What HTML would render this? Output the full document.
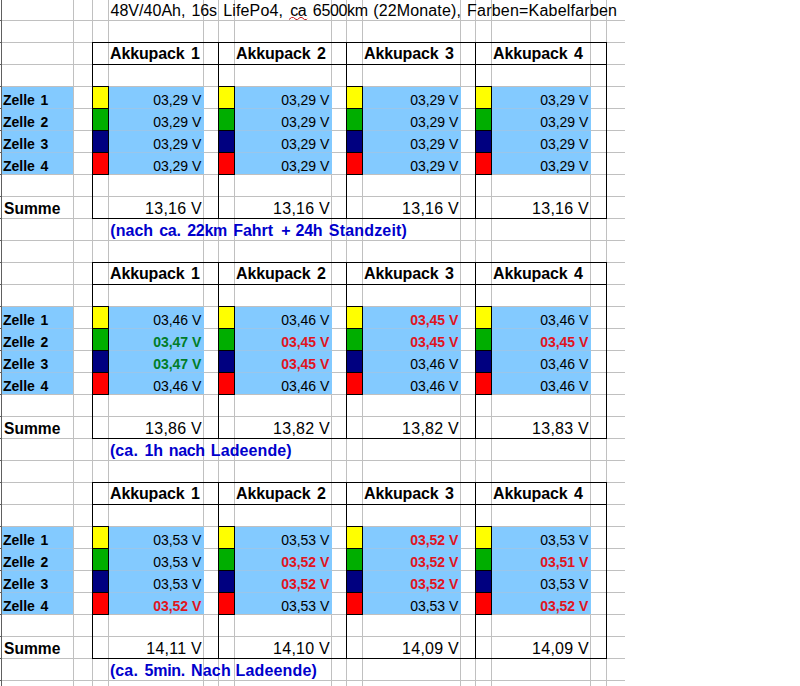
<!DOCTYPE html><html><head><meta charset="utf-8"><title>Akku</title><style>
html,body{margin:0;padding:0;background:#fff;}
body{width:800px;height:686px;position:relative;overflow:hidden;font-family:"Liberation Sans",sans-serif;color:#000;}
div,span{position:absolute;box-sizing:border-box;}
.h{left:0;width:625px;height:1px;background:#c0c0c0;}
.v{top:0;height:686px;width:1px;background:#c0c0c0;}
.b{background:#83caff;height:21px;}
.gb{background:#9ac6ea;height:1px;}
.k{background:#000;}
.t{white-space:nowrap;line-height:1;}
.ti{font-size:16px;}
.hd{font-size:16px;font-weight:bold;letter-spacing:-0.15px;word-spacing:2.2px;}
.z{font-size:14px;font-weight:bold;word-spacing:1.6px;}
.s{font-size:15.6px;font-weight:bold;}
.n{font-size:16px;font-weight:bold;color:#0000cc;}
.c{font-size:14px;text-align:right;}
.cg{font-weight:bold;color:#007d28;}
.cr{font-weight:bold;color:#e0141e;}
.u{font-size:16px;text-align:right;letter-spacing:0.25px;}
</style></head><body>
<div class="h" style="top:20px"></div>
<div class="h" style="top:42px"></div>
<div class="h" style="top:64px"></div>
<div class="h" style="top:86px"></div>
<div class="h" style="top:108px"></div>
<div class="h" style="top:130px"></div>
<div class="h" style="top:152px"></div>
<div class="h" style="top:174px"></div>
<div class="h" style="top:196px"></div>
<div class="h" style="top:218px"></div>
<div class="h" style="top:240px"></div>
<div class="h" style="top:262px"></div>
<div class="h" style="top:284px"></div>
<div class="h" style="top:306px"></div>
<div class="h" style="top:328px"></div>
<div class="h" style="top:350px"></div>
<div class="h" style="top:372px"></div>
<div class="h" style="top:394px"></div>
<div class="h" style="top:416px"></div>
<div class="h" style="top:438px"></div>
<div class="h" style="top:460px"></div>
<div class="h" style="top:482px"></div>
<div class="h" style="top:504px"></div>
<div class="h" style="top:526px"></div>
<div class="h" style="top:548px"></div>
<div class="h" style="top:570px"></div>
<div class="h" style="top:592px"></div>
<div class="h" style="top:614px"></div>
<div class="h" style="top:636px"></div>
<div class="h" style="top:658px"></div>
<div class="h" style="top:680px"></div>
<div class="v" style="left:73px"></div>
<div class="v" style="left:92px"></div>
<div class="v" style="left:108px"></div>
<div class="v" style="left:203px"></div>
<div class="v" style="left:218px"></div>
<div class="v" style="left:234px"></div>
<div class="v" style="left:331px"></div>
<div class="v" style="left:346px"></div>
<div class="v" style="left:362px"></div>
<div class="v" style="left:460px"></div>
<div class="v" style="left:475px"></div>
<div class="v" style="left:491px"></div>
<div class="v" style="left:590px"></div>
<div class="v" style="left:606px"></div>
<div style="left:1px;top:0;width:1px;height:686px;background:#606060"></div>
<div style="left:0;top:20px;width:1px;height:1px;background:#606060"></div>
<div style="left:0;top:42px;width:1px;height:1px;background:#606060"></div>
<div style="left:0;top:64px;width:1px;height:1px;background:#606060"></div>
<div style="left:0;top:86px;width:1px;height:1px;background:#606060"></div>
<div style="left:0;top:108px;width:1px;height:1px;background:#606060"></div>
<div style="left:0;top:130px;width:1px;height:1px;background:#606060"></div>
<div style="left:0;top:152px;width:1px;height:1px;background:#606060"></div>
<div style="left:0;top:174px;width:1px;height:1px;background:#606060"></div>
<div style="left:0;top:196px;width:1px;height:1px;background:#606060"></div>
<div style="left:0;top:218px;width:1px;height:1px;background:#606060"></div>
<div style="left:0;top:240px;width:1px;height:1px;background:#606060"></div>
<div style="left:0;top:262px;width:1px;height:1px;background:#606060"></div>
<div style="left:0;top:284px;width:1px;height:1px;background:#606060"></div>
<div style="left:0;top:306px;width:1px;height:1px;background:#606060"></div>
<div style="left:0;top:328px;width:1px;height:1px;background:#606060"></div>
<div style="left:0;top:350px;width:1px;height:1px;background:#606060"></div>
<div style="left:0;top:372px;width:1px;height:1px;background:#606060"></div>
<div style="left:0;top:394px;width:1px;height:1px;background:#606060"></div>
<div style="left:0;top:416px;width:1px;height:1px;background:#606060"></div>
<div style="left:0;top:438px;width:1px;height:1px;background:#606060"></div>
<div style="left:0;top:460px;width:1px;height:1px;background:#606060"></div>
<div style="left:0;top:482px;width:1px;height:1px;background:#606060"></div>
<div style="left:0;top:504px;width:1px;height:1px;background:#606060"></div>
<div style="left:0;top:526px;width:1px;height:1px;background:#606060"></div>
<div style="left:0;top:548px;width:1px;height:1px;background:#606060"></div>
<div style="left:0;top:570px;width:1px;height:1px;background:#606060"></div>
<div style="left:0;top:592px;width:1px;height:1px;background:#606060"></div>
<div style="left:0;top:614px;width:1px;height:1px;background:#606060"></div>
<div style="left:0;top:636px;width:1px;height:1px;background:#606060"></div>
<div style="left:0;top:658px;width:1px;height:1px;background:#606060"></div>
<div style="left:0;top:680px;width:1px;height:1px;background:#606060"></div>
<span class="t ti" style="left:110.5px;top:3px;letter-spacing:0.03px">48V/40Ah,</span>
<span class="t ti" style="left:191.5px;top:3px;letter-spacing:-0.15px">16s</span>
<span class="t ti" style="left:223.2px;top:3px;letter-spacing:0.15px">LifePo4,</span>
<span class="t ti" style="left:290.2px;top:3px;letter-spacing:-0.35px">ca</span>
<span class="t ti" style="left:312.8px;top:3px;letter-spacing:-0.32px">6500km</span>
<span class="t ti" style="left:373.3px;top:3px;letter-spacing:0.13px">(22Monate),</span>
<span class="t ti" style="left:467.1px;top:3px;letter-spacing:0.21px">Farben=Kabelfarben</span>
<svg style="position:absolute;left:288px;top:16px" width="21" height="5" viewBox="288 16 21 5"><path d="M289 19.5 L291.5 17.5 L293.5 17.5 L296 19.5 L297.5 19.5 L300 17.5 L302 17.5 L304.5 19.5 L306.5 19.5 L307.2 18.8" fill="none" stroke="#c41c1c" stroke-width="1"/></svg>
<div class="b" style="left:2px;top:87px;width:71px"></div>
<div class="b" style="left:109px;top:87px;width:95px"></div>
<div class="b" style="left:235px;top:87px;width:97px"></div>
<div class="b" style="left:363px;top:87px;width:98px"></div>
<div class="b" style="left:492px;top:87px;width:99px"></div>
<div class="gb" style="left:2px;top:108px;width:71px"></div>
<div class="gb" style="left:109px;top:108px;width:95px"></div>
<div class="gb" style="left:235px;top:108px;width:97px"></div>
<div class="gb" style="left:363px;top:108px;width:98px"></div>
<div class="gb" style="left:492px;top:108px;width:99px"></div>
<div class="b" style="left:2px;top:109px;width:71px"></div>
<div class="b" style="left:109px;top:109px;width:95px"></div>
<div class="b" style="left:235px;top:109px;width:97px"></div>
<div class="b" style="left:363px;top:109px;width:98px"></div>
<div class="b" style="left:492px;top:109px;width:99px"></div>
<div class="gb" style="left:2px;top:130px;width:71px"></div>
<div class="gb" style="left:109px;top:130px;width:95px"></div>
<div class="gb" style="left:235px;top:130px;width:97px"></div>
<div class="gb" style="left:363px;top:130px;width:98px"></div>
<div class="gb" style="left:492px;top:130px;width:99px"></div>
<div class="b" style="left:2px;top:131px;width:71px"></div>
<div class="b" style="left:109px;top:131px;width:95px"></div>
<div class="b" style="left:235px;top:131px;width:97px"></div>
<div class="b" style="left:363px;top:131px;width:98px"></div>
<div class="b" style="left:492px;top:131px;width:99px"></div>
<div class="gb" style="left:2px;top:152px;width:71px"></div>
<div class="gb" style="left:109px;top:152px;width:95px"></div>
<div class="gb" style="left:235px;top:152px;width:97px"></div>
<div class="gb" style="left:363px;top:152px;width:98px"></div>
<div class="gb" style="left:492px;top:152px;width:99px"></div>
<div class="b" style="left:2px;top:153px;width:71px"></div>
<div class="b" style="left:109px;top:153px;width:95px"></div>
<div class="b" style="left:235px;top:153px;width:97px"></div>
<div class="b" style="left:363px;top:153px;width:98px"></div>
<div class="b" style="left:492px;top:153px;width:99px"></div>
<div style="left:93px;top:87px;width:15px;height:21px;background:#ffff00"></div>
<div style="left:93px;top:109px;width:15px;height:21px;background:#00ae00"></div>
<div style="left:93px;top:131px;width:15px;height:21px;background:#000080"></div>
<div style="left:93px;top:153px;width:15px;height:21px;background:#ff0000"></div>
<div class="k" style="left:92px;top:86px;width:17px;height:1px"></div>
<div class="k" style="left:92px;top:108px;width:17px;height:1px"></div>
<div class="k" style="left:92px;top:130px;width:17px;height:1px"></div>
<div class="k" style="left:92px;top:152px;width:17px;height:1px"></div>
<div class="k" style="left:92px;top:174px;width:17px;height:1px"></div>
<div class="k" style="left:108px;top:86px;width:1px;height:89px"></div>
<div style="left:219px;top:87px;width:15px;height:21px;background:#ffff00"></div>
<div style="left:219px;top:109px;width:15px;height:21px;background:#00ae00"></div>
<div style="left:219px;top:131px;width:15px;height:21px;background:#000080"></div>
<div style="left:219px;top:153px;width:15px;height:21px;background:#ff0000"></div>
<div class="k" style="left:218px;top:86px;width:17px;height:1px"></div>
<div class="k" style="left:218px;top:108px;width:17px;height:1px"></div>
<div class="k" style="left:218px;top:130px;width:17px;height:1px"></div>
<div class="k" style="left:218px;top:152px;width:17px;height:1px"></div>
<div class="k" style="left:218px;top:174px;width:17px;height:1px"></div>
<div class="k" style="left:234px;top:86px;width:1px;height:89px"></div>
<div style="left:347px;top:87px;width:15px;height:21px;background:#ffff00"></div>
<div style="left:347px;top:109px;width:15px;height:21px;background:#00ae00"></div>
<div style="left:347px;top:131px;width:15px;height:21px;background:#000080"></div>
<div style="left:347px;top:153px;width:15px;height:21px;background:#ff0000"></div>
<div class="k" style="left:346px;top:86px;width:17px;height:1px"></div>
<div class="k" style="left:346px;top:108px;width:17px;height:1px"></div>
<div class="k" style="left:346px;top:130px;width:17px;height:1px"></div>
<div class="k" style="left:346px;top:152px;width:17px;height:1px"></div>
<div class="k" style="left:346px;top:174px;width:17px;height:1px"></div>
<div class="k" style="left:362px;top:86px;width:1px;height:89px"></div>
<div style="left:476px;top:87px;width:15px;height:21px;background:#ffff00"></div>
<div style="left:476px;top:109px;width:15px;height:21px;background:#00ae00"></div>
<div style="left:476px;top:131px;width:15px;height:21px;background:#000080"></div>
<div style="left:476px;top:153px;width:15px;height:21px;background:#ff0000"></div>
<div class="k" style="left:475px;top:86px;width:17px;height:1px"></div>
<div class="k" style="left:475px;top:108px;width:17px;height:1px"></div>
<div class="k" style="left:475px;top:130px;width:17px;height:1px"></div>
<div class="k" style="left:475px;top:152px;width:17px;height:1px"></div>
<div class="k" style="left:475px;top:174px;width:17px;height:1px"></div>
<div class="k" style="left:491px;top:86px;width:1px;height:89px"></div>
<div class="k" style="left:92px;top:42px;width:515px;height:1px"></div>
<div class="k" style="left:92px;top:64px;width:515px;height:1px"></div>
<div class="k" style="left:92px;top:218px;width:515px;height:1px"></div>
<div class="k" style="left:92px;top:42px;width:1px;height:177px"></div>
<div class="k" style="left:218px;top:42px;width:1px;height:177px"></div>
<div class="k" style="left:346px;top:42px;width:1px;height:177px"></div>
<div class="k" style="left:475px;top:42px;width:1px;height:177px"></div>
<div class="k" style="left:606px;top:42px;width:1px;height:177px"></div>
<span class="t hd" style="left:110px;top:46px">Akkupack 1</span>
<span class="t hd" style="left:236px;top:46px">Akkupack 2</span>
<span class="t hd" style="left:364px;top:46px">Akkupack 3</span>
<span class="t hd" style="left:493px;top:46px">Akkupack 4</span>
<span class="t z" style="left:3px;top:93px">Zelle 1</span>
<span class="t z" style="left:3px;top:115px">Zelle 2</span>
<span class="t z" style="left:3px;top:137px">Zelle 3</span>
<span class="t z" style="left:3px;top:159px">Zelle 4</span>
<span class="t s" style="left:4px;top:201px">Summe</span>
<span class="t c " style="left:109px;width:92.4px;top:93px">03,29 V</span>
<span class="t c " style="left:109px;width:92.4px;top:115px">03,29 V</span>
<span class="t c " style="left:109px;width:92.4px;top:137px">03,29 V</span>
<span class="t c " style="left:109px;width:92.4px;top:159px">03,29 V</span>
<span class="t u" style="left:109px;width:93px;top:201px">13,16 V</span>
<span class="t c " style="left:235px;width:94.4px;top:93px">03,29 V</span>
<span class="t c " style="left:235px;width:94.4px;top:115px">03,29 V</span>
<span class="t c " style="left:235px;width:94.4px;top:137px">03,29 V</span>
<span class="t c " style="left:235px;width:94.4px;top:159px">03,29 V</span>
<span class="t u" style="left:235px;width:95px;top:201px">13,16 V</span>
<span class="t c " style="left:363px;width:95.4px;top:93px">03,29 V</span>
<span class="t c " style="left:363px;width:95.4px;top:115px">03,29 V</span>
<span class="t c " style="left:363px;width:95.4px;top:137px">03,29 V</span>
<span class="t c " style="left:363px;width:95.4px;top:159px">03,29 V</span>
<span class="t u" style="left:363px;width:96px;top:201px">13,16 V</span>
<span class="t c " style="left:492px;width:96.4px;top:93px">03,29 V</span>
<span class="t c " style="left:492px;width:96.4px;top:115px">03,29 V</span>
<span class="t c " style="left:492px;width:96.4px;top:137px">03,29 V</span>
<span class="t c " style="left:492px;width:96.4px;top:159px">03,29 V</span>
<span class="t u" style="left:492px;width:97px;top:201px">13,16 V</span>
<span class="t n" style="left:110.3px;top:223px;letter-spacing:0.03px">(nach</span>
<span class="t n" style="left:159.3px;top:223px;letter-spacing:-0.35px">ca.</span>
<span class="t n" style="left:187.3px;top:223px;letter-spacing:-0.35px">22km</span>
<span class="t n" style="left:233.3px;top:223px;letter-spacing:-0.07px">Fahrt</span>
<span class="t n" style="left:281.3px;top:223px;letter-spacing:0.00px">+</span>
<span class="t n" style="left:295.6px;top:223px;letter-spacing:-0.35px">24h</span>
<span class="t n" style="left:328.8px;top:223px;letter-spacing:0.18px">Standzeit)</span>
<div class="b" style="left:2px;top:307px;width:71px"></div>
<div class="b" style="left:109px;top:307px;width:95px"></div>
<div class="b" style="left:235px;top:307px;width:97px"></div>
<div class="b" style="left:363px;top:307px;width:98px"></div>
<div class="b" style="left:492px;top:307px;width:99px"></div>
<div class="gb" style="left:2px;top:328px;width:71px"></div>
<div class="gb" style="left:109px;top:328px;width:95px"></div>
<div class="gb" style="left:235px;top:328px;width:97px"></div>
<div class="gb" style="left:363px;top:328px;width:98px"></div>
<div class="gb" style="left:492px;top:328px;width:99px"></div>
<div class="b" style="left:2px;top:329px;width:71px"></div>
<div class="b" style="left:109px;top:329px;width:95px"></div>
<div class="b" style="left:235px;top:329px;width:97px"></div>
<div class="b" style="left:363px;top:329px;width:98px"></div>
<div class="b" style="left:492px;top:329px;width:99px"></div>
<div class="gb" style="left:2px;top:350px;width:71px"></div>
<div class="gb" style="left:109px;top:350px;width:95px"></div>
<div class="gb" style="left:235px;top:350px;width:97px"></div>
<div class="gb" style="left:363px;top:350px;width:98px"></div>
<div class="gb" style="left:492px;top:350px;width:99px"></div>
<div class="b" style="left:2px;top:351px;width:71px"></div>
<div class="b" style="left:109px;top:351px;width:95px"></div>
<div class="b" style="left:235px;top:351px;width:97px"></div>
<div class="b" style="left:363px;top:351px;width:98px"></div>
<div class="b" style="left:492px;top:351px;width:99px"></div>
<div class="gb" style="left:2px;top:372px;width:71px"></div>
<div class="gb" style="left:109px;top:372px;width:95px"></div>
<div class="gb" style="left:235px;top:372px;width:97px"></div>
<div class="gb" style="left:363px;top:372px;width:98px"></div>
<div class="gb" style="left:492px;top:372px;width:99px"></div>
<div class="b" style="left:2px;top:373px;width:71px"></div>
<div class="b" style="left:109px;top:373px;width:95px"></div>
<div class="b" style="left:235px;top:373px;width:97px"></div>
<div class="b" style="left:363px;top:373px;width:98px"></div>
<div class="b" style="left:492px;top:373px;width:99px"></div>
<div style="left:93px;top:307px;width:15px;height:21px;background:#ffff00"></div>
<div style="left:93px;top:329px;width:15px;height:21px;background:#00ae00"></div>
<div style="left:93px;top:351px;width:15px;height:21px;background:#000080"></div>
<div style="left:93px;top:373px;width:15px;height:21px;background:#ff0000"></div>
<div class="k" style="left:92px;top:306px;width:17px;height:1px"></div>
<div class="k" style="left:92px;top:328px;width:17px;height:1px"></div>
<div class="k" style="left:92px;top:350px;width:17px;height:1px"></div>
<div class="k" style="left:92px;top:372px;width:17px;height:1px"></div>
<div class="k" style="left:92px;top:394px;width:17px;height:1px"></div>
<div class="k" style="left:108px;top:306px;width:1px;height:89px"></div>
<div style="left:219px;top:307px;width:15px;height:21px;background:#ffff00"></div>
<div style="left:219px;top:329px;width:15px;height:21px;background:#00ae00"></div>
<div style="left:219px;top:351px;width:15px;height:21px;background:#000080"></div>
<div style="left:219px;top:373px;width:15px;height:21px;background:#ff0000"></div>
<div class="k" style="left:218px;top:306px;width:17px;height:1px"></div>
<div class="k" style="left:218px;top:328px;width:17px;height:1px"></div>
<div class="k" style="left:218px;top:350px;width:17px;height:1px"></div>
<div class="k" style="left:218px;top:372px;width:17px;height:1px"></div>
<div class="k" style="left:218px;top:394px;width:17px;height:1px"></div>
<div class="k" style="left:234px;top:306px;width:1px;height:89px"></div>
<div style="left:347px;top:307px;width:15px;height:21px;background:#ffff00"></div>
<div style="left:347px;top:329px;width:15px;height:21px;background:#00ae00"></div>
<div style="left:347px;top:351px;width:15px;height:21px;background:#000080"></div>
<div style="left:347px;top:373px;width:15px;height:21px;background:#ff0000"></div>
<div class="k" style="left:346px;top:306px;width:17px;height:1px"></div>
<div class="k" style="left:346px;top:328px;width:17px;height:1px"></div>
<div class="k" style="left:346px;top:350px;width:17px;height:1px"></div>
<div class="k" style="left:346px;top:372px;width:17px;height:1px"></div>
<div class="k" style="left:346px;top:394px;width:17px;height:1px"></div>
<div class="k" style="left:362px;top:306px;width:1px;height:89px"></div>
<div style="left:476px;top:307px;width:15px;height:21px;background:#ffff00"></div>
<div style="left:476px;top:329px;width:15px;height:21px;background:#00ae00"></div>
<div style="left:476px;top:351px;width:15px;height:21px;background:#000080"></div>
<div style="left:476px;top:373px;width:15px;height:21px;background:#ff0000"></div>
<div class="k" style="left:475px;top:306px;width:17px;height:1px"></div>
<div class="k" style="left:475px;top:328px;width:17px;height:1px"></div>
<div class="k" style="left:475px;top:350px;width:17px;height:1px"></div>
<div class="k" style="left:475px;top:372px;width:17px;height:1px"></div>
<div class="k" style="left:475px;top:394px;width:17px;height:1px"></div>
<div class="k" style="left:491px;top:306px;width:1px;height:89px"></div>
<div class="k" style="left:92px;top:262px;width:515px;height:1px"></div>
<div class="k" style="left:92px;top:284px;width:515px;height:1px"></div>
<div class="k" style="left:92px;top:438px;width:515px;height:1px"></div>
<div class="k" style="left:92px;top:262px;width:1px;height:177px"></div>
<div class="k" style="left:218px;top:262px;width:1px;height:177px"></div>
<div class="k" style="left:346px;top:262px;width:1px;height:177px"></div>
<div class="k" style="left:475px;top:262px;width:1px;height:177px"></div>
<div class="k" style="left:606px;top:262px;width:1px;height:177px"></div>
<span class="t hd" style="left:110px;top:266px">Akkupack 1</span>
<span class="t hd" style="left:236px;top:266px">Akkupack 2</span>
<span class="t hd" style="left:364px;top:266px">Akkupack 3</span>
<span class="t hd" style="left:493px;top:266px">Akkupack 4</span>
<span class="t z" style="left:3px;top:313px">Zelle 1</span>
<span class="t z" style="left:3px;top:335px">Zelle 2</span>
<span class="t z" style="left:3px;top:357px">Zelle 3</span>
<span class="t z" style="left:3px;top:379px">Zelle 4</span>
<span class="t s" style="left:4px;top:421px">Summe</span>
<span class="t c " style="left:109px;width:92.4px;top:313px">03,46 V</span>
<span class="t c cg" style="left:109px;width:92.4px;top:335px">03,47 V</span>
<span class="t c cg" style="left:109px;width:92.4px;top:357px">03,47 V</span>
<span class="t c " style="left:109px;width:92.4px;top:379px">03,46 V</span>
<span class="t u" style="left:109px;width:93px;top:421px">13,86 V</span>
<span class="t c " style="left:235px;width:94.4px;top:313px">03,46 V</span>
<span class="t c cr" style="left:235px;width:94.4px;top:335px">03,45 V</span>
<span class="t c cr" style="left:235px;width:94.4px;top:357px">03,45 V</span>
<span class="t c " style="left:235px;width:94.4px;top:379px">03,46 V</span>
<span class="t u" style="left:235px;width:95px;top:421px">13,82 V</span>
<span class="t c cr" style="left:363px;width:95.4px;top:313px">03,45 V</span>
<span class="t c cr" style="left:363px;width:95.4px;top:335px">03,45 V</span>
<span class="t c " style="left:363px;width:95.4px;top:357px">03,46 V</span>
<span class="t c " style="left:363px;width:95.4px;top:379px">03,46 V</span>
<span class="t u" style="left:363px;width:96px;top:421px">13,82 V</span>
<span class="t c " style="left:492px;width:96.4px;top:313px">03,46 V</span>
<span class="t c cr" style="left:492px;width:96.4px;top:335px">03,45 V</span>
<span class="t c " style="left:492px;width:96.4px;top:357px">03,46 V</span>
<span class="t c " style="left:492px;width:96.4px;top:379px">03,46 V</span>
<span class="t u" style="left:492px;width:97px;top:421px">13,83 V</span>
<span class="t n" style="left:109.9px;top:443px;letter-spacing:0.12px">(ca.</span>
<span class="t n" style="left:144.5px;top:443px;letter-spacing:-0.10px">1h</span>
<span class="t n" style="left:168.8px;top:443px;letter-spacing:-0.35px">nach</span>
<span class="t n" style="left:210.8px;top:443px;letter-spacing:0.10px">Ladeende)</span>
<div class="b" style="left:2px;top:527px;width:71px"></div>
<div class="b" style="left:109px;top:527px;width:95px"></div>
<div class="b" style="left:235px;top:527px;width:97px"></div>
<div class="b" style="left:363px;top:527px;width:98px"></div>
<div class="b" style="left:492px;top:527px;width:99px"></div>
<div class="gb" style="left:2px;top:548px;width:71px"></div>
<div class="gb" style="left:109px;top:548px;width:95px"></div>
<div class="gb" style="left:235px;top:548px;width:97px"></div>
<div class="gb" style="left:363px;top:548px;width:98px"></div>
<div class="gb" style="left:492px;top:548px;width:99px"></div>
<div class="b" style="left:2px;top:549px;width:71px"></div>
<div class="b" style="left:109px;top:549px;width:95px"></div>
<div class="b" style="left:235px;top:549px;width:97px"></div>
<div class="b" style="left:363px;top:549px;width:98px"></div>
<div class="b" style="left:492px;top:549px;width:99px"></div>
<div class="gb" style="left:2px;top:570px;width:71px"></div>
<div class="gb" style="left:109px;top:570px;width:95px"></div>
<div class="gb" style="left:235px;top:570px;width:97px"></div>
<div class="gb" style="left:363px;top:570px;width:98px"></div>
<div class="gb" style="left:492px;top:570px;width:99px"></div>
<div class="b" style="left:2px;top:571px;width:71px"></div>
<div class="b" style="left:109px;top:571px;width:95px"></div>
<div class="b" style="left:235px;top:571px;width:97px"></div>
<div class="b" style="left:363px;top:571px;width:98px"></div>
<div class="b" style="left:492px;top:571px;width:99px"></div>
<div class="gb" style="left:2px;top:592px;width:71px"></div>
<div class="gb" style="left:109px;top:592px;width:95px"></div>
<div class="gb" style="left:235px;top:592px;width:97px"></div>
<div class="gb" style="left:363px;top:592px;width:98px"></div>
<div class="gb" style="left:492px;top:592px;width:99px"></div>
<div class="b" style="left:2px;top:593px;width:71px"></div>
<div class="b" style="left:109px;top:593px;width:95px"></div>
<div class="b" style="left:235px;top:593px;width:97px"></div>
<div class="b" style="left:363px;top:593px;width:98px"></div>
<div class="b" style="left:492px;top:593px;width:99px"></div>
<div style="left:93px;top:527px;width:15px;height:21px;background:#ffff00"></div>
<div style="left:93px;top:549px;width:15px;height:21px;background:#00ae00"></div>
<div style="left:93px;top:571px;width:15px;height:21px;background:#000080"></div>
<div style="left:93px;top:593px;width:15px;height:21px;background:#ff0000"></div>
<div class="k" style="left:92px;top:526px;width:17px;height:1px"></div>
<div class="k" style="left:92px;top:548px;width:17px;height:1px"></div>
<div class="k" style="left:92px;top:570px;width:17px;height:1px"></div>
<div class="k" style="left:92px;top:592px;width:17px;height:1px"></div>
<div class="k" style="left:92px;top:614px;width:17px;height:1px"></div>
<div class="k" style="left:108px;top:526px;width:1px;height:89px"></div>
<div style="left:219px;top:527px;width:15px;height:21px;background:#ffff00"></div>
<div style="left:219px;top:549px;width:15px;height:21px;background:#00ae00"></div>
<div style="left:219px;top:571px;width:15px;height:21px;background:#000080"></div>
<div style="left:219px;top:593px;width:15px;height:21px;background:#ff0000"></div>
<div class="k" style="left:218px;top:526px;width:17px;height:1px"></div>
<div class="k" style="left:218px;top:548px;width:17px;height:1px"></div>
<div class="k" style="left:218px;top:570px;width:17px;height:1px"></div>
<div class="k" style="left:218px;top:592px;width:17px;height:1px"></div>
<div class="k" style="left:218px;top:614px;width:17px;height:1px"></div>
<div class="k" style="left:234px;top:526px;width:1px;height:89px"></div>
<div style="left:347px;top:527px;width:15px;height:21px;background:#ffff00"></div>
<div style="left:347px;top:549px;width:15px;height:21px;background:#00ae00"></div>
<div style="left:347px;top:571px;width:15px;height:21px;background:#000080"></div>
<div style="left:347px;top:593px;width:15px;height:21px;background:#ff0000"></div>
<div class="k" style="left:346px;top:526px;width:17px;height:1px"></div>
<div class="k" style="left:346px;top:548px;width:17px;height:1px"></div>
<div class="k" style="left:346px;top:570px;width:17px;height:1px"></div>
<div class="k" style="left:346px;top:592px;width:17px;height:1px"></div>
<div class="k" style="left:346px;top:614px;width:17px;height:1px"></div>
<div class="k" style="left:362px;top:526px;width:1px;height:89px"></div>
<div style="left:476px;top:527px;width:15px;height:21px;background:#ffff00"></div>
<div style="left:476px;top:549px;width:15px;height:21px;background:#00ae00"></div>
<div style="left:476px;top:571px;width:15px;height:21px;background:#000080"></div>
<div style="left:476px;top:593px;width:15px;height:21px;background:#ff0000"></div>
<div class="k" style="left:475px;top:526px;width:17px;height:1px"></div>
<div class="k" style="left:475px;top:548px;width:17px;height:1px"></div>
<div class="k" style="left:475px;top:570px;width:17px;height:1px"></div>
<div class="k" style="left:475px;top:592px;width:17px;height:1px"></div>
<div class="k" style="left:475px;top:614px;width:17px;height:1px"></div>
<div class="k" style="left:491px;top:526px;width:1px;height:89px"></div>
<div class="k" style="left:92px;top:482px;width:515px;height:1px"></div>
<div class="k" style="left:92px;top:504px;width:515px;height:1px"></div>
<div class="k" style="left:92px;top:658px;width:515px;height:1px"></div>
<div class="k" style="left:92px;top:482px;width:1px;height:177px"></div>
<div class="k" style="left:218px;top:482px;width:1px;height:177px"></div>
<div class="k" style="left:346px;top:482px;width:1px;height:177px"></div>
<div class="k" style="left:475px;top:482px;width:1px;height:177px"></div>
<div class="k" style="left:606px;top:482px;width:1px;height:177px"></div>
<span class="t hd" style="left:110px;top:486px">Akkupack 1</span>
<span class="t hd" style="left:236px;top:486px">Akkupack 2</span>
<span class="t hd" style="left:364px;top:486px">Akkupack 3</span>
<span class="t hd" style="left:493px;top:486px">Akkupack 4</span>
<span class="t z" style="left:3px;top:533px">Zelle 1</span>
<span class="t z" style="left:3px;top:555px">Zelle 2</span>
<span class="t z" style="left:3px;top:577px">Zelle 3</span>
<span class="t z" style="left:3px;top:599px">Zelle 4</span>
<span class="t s" style="left:4px;top:641px">Summe</span>
<span class="t c " style="left:109px;width:92.4px;top:533px">03,53 V</span>
<span class="t c " style="left:109px;width:92.4px;top:555px">03,53 V</span>
<span class="t c " style="left:109px;width:92.4px;top:577px">03,53 V</span>
<span class="t c cr" style="left:109px;width:92.4px;top:599px">03,52 V</span>
<span class="t u" style="left:109px;width:93px;top:641px">14,11 V</span>
<span class="t c " style="left:235px;width:94.4px;top:533px">03,53 V</span>
<span class="t c cr" style="left:235px;width:94.4px;top:555px">03,52 V</span>
<span class="t c cr" style="left:235px;width:94.4px;top:577px">03,52 V</span>
<span class="t c " style="left:235px;width:94.4px;top:599px">03,53 V</span>
<span class="t u" style="left:235px;width:95px;top:641px">14,10 V</span>
<span class="t c cr" style="left:363px;width:95.4px;top:533px">03,52 V</span>
<span class="t c cr" style="left:363px;width:95.4px;top:555px">03,52 V</span>
<span class="t c cr" style="left:363px;width:95.4px;top:577px">03,52 V</span>
<span class="t c " style="left:363px;width:95.4px;top:599px">03,53 V</span>
<span class="t u" style="left:363px;width:96px;top:641px">14,09 V</span>
<span class="t c " style="left:492px;width:96.4px;top:533px">03,53 V</span>
<span class="t c cr" style="left:492px;width:96.4px;top:555px">03,51 V</span>
<span class="t c " style="left:492px;width:96.4px;top:577px">03,53 V</span>
<span class="t c cr" style="left:492px;width:96.4px;top:599px">03,52 V</span>
<span class="t u" style="left:492px;width:97px;top:641px">14,09 V</span>
<span class="t n" style="left:109.9px;top:663px;letter-spacing:0.12px">(ca.</span>
<span class="t n" style="left:144.6px;top:663px;letter-spacing:-0.29px">5min.</span>
<span class="t n" style="left:191.0px;top:663px;letter-spacing:0.18px">Nach</span>
<span class="t n" style="left:235.6px;top:663px;letter-spacing:0.15px">Ladeende)</span>
</body></html>
